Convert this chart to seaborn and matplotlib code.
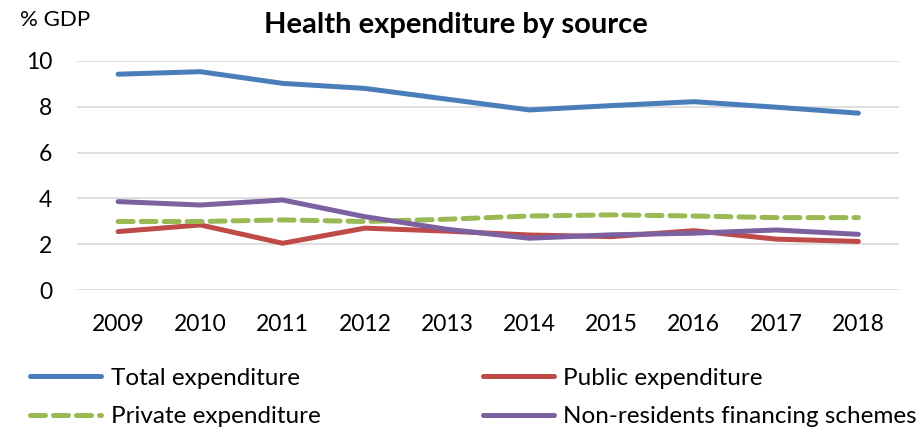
"""Health expenditure by source, % GDP"""

import matplotlib
matplotlib.use("Agg")
import matplotlib.pyplot as plt
import pandas as pd
import seaborn as sns

sns.set_theme(style="white")
plt.rcParams["font.family"] = ["Lato", "DejaVu Sans"]
plt.rcParams["text.color"] = "black"

YEARS = [2009, 2010, 2011, 2012, 2013, 2014, 2015, 2016, 2017, 2018]
TOTAL = [9.42, 9.53, 9.02, 8.80, 8.33, 7.86, 8.05, 8.22, 7.98, 7.72]
PUBLIC = [2.55, 2.84, 2.04, 2.70, 2.57, 2.40, 2.33, 2.59, 2.22, 2.12]
PRIVATE = [2.99, 2.99, 3.06, 2.99, 3.09, 3.23, 3.28, 3.23, 3.16, 3.16]
NONRES = [3.86, 3.71, 3.93, 3.20, 2.65, 2.26, 2.41, 2.48, 2.62, 2.43]

SERIES = {
    "Total expenditure": TOTAL,
    "Public expenditure": PUBLIC,
    "Private expenditure": PRIVATE,
    "Non-residents financing schemes": NONRES,
}
COLORS = {
    "Total expenditure": "#4a7ebb",
    "Public expenditure": "#be4b48",
    "Private expenditure": "#98b954",
    "Non-residents financing schemes": "#7d60a0",
}
DASHES = {
    "Total expenditure": "",
    "Public expenditure": "",
    "Private expenditure": (3, 1.6),
    "Non-residents financing schemes": "",
}

df = pd.concat(
    [pd.DataFrame({"year": YEARS, "value": v, "series": k}) for k, v in SERIES.items()],
    ignore_index=True,
)

fig = plt.figure(figsize=(9.2, 4.29), dpi=100)
ax = fig.add_axes([0.0837, 0.324, 0.894, 0.534])

sns.lineplot(data=df, x="year", y="value", hue="series", style="series",
             palette=COLORS, dashes=DASHES, linewidth=3.6, ax=ax, legend=False)
for line in ax.lines:
    line.set_solid_capstyle("round")
    line.set_dash_capstyle("round")

ax.set_xlim(2008.5, 2018.5)
ax.set_ylim(0, 10)
ax.set_xticks(YEARS)
ax.set_yticks([0, 2, 4, 6, 8, 10])
ax.tick_params(axis="both", labelsize=16.5, length=0, colors="black")
ax.tick_params(axis="x", pad=17)
ax.tick_params(axis="y", pad=18)
ax.yaxis.grid(True, color="#d9d9d9", linewidth=1.2)
ax.set_axisbelow(True)
for s in ax.spines.values():
    s.set_visible(False)
ax.set_xlabel("")
ax.set_ylabel("")

fig.text(0.496, 0.942, "Health expenditure by source", ha="center", va="center",
         fontsize=21, fontweight="bold")
fig.text(0.022, 0.953, "% GDP", ha="left", va="center", fontsize=16)

order = ["Total expenditure", "Private expenditure",
         "Public expenditure", "Non-residents financing schemes"]
handles = [plt.Line2D([], [], color=COLORS[k], linewidth=3.6,
                      linestyle=(0, DASHES[k]) if DASHES[k] else "-",
                      solid_capstyle="round", dash_capstyle="round")
           for k in order]
fig.legend(handles, order, loc="upper left", bbox_to_anchor=(0.033, 0.143),
           ncol=2, frameon=False, fontsize=17.5, handlelength=2.9,
           handletextpad=0.4, columnspacing=6.7, labelspacing=0.72,
           borderaxespad=0, borderpad=0)

fig.savefig("out.png", dpi=100)
